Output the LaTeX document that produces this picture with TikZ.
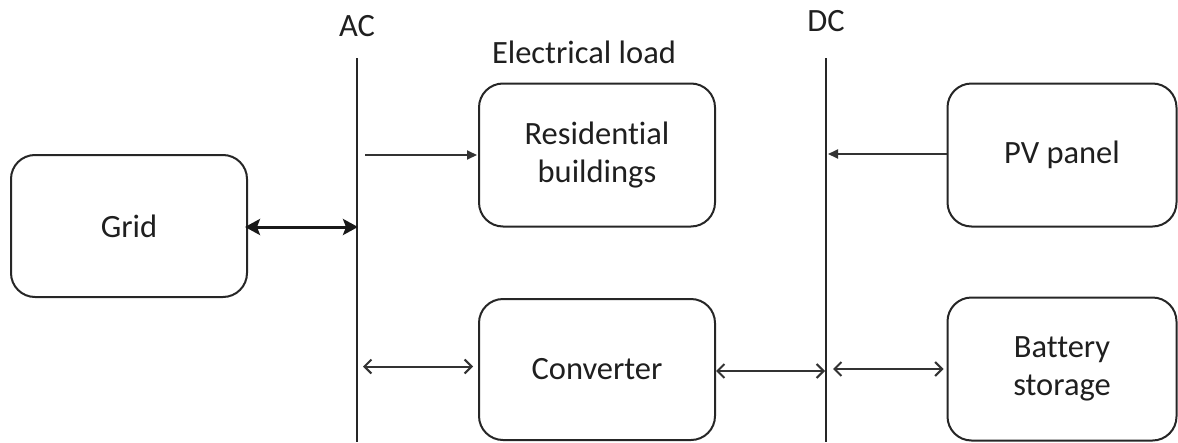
\documentclass[tikz,border=0pt]{standalone}
\usepackage{fontspec}
\setmainfont{Carlito}[Ligatures={NoCommon,NoRare,NoContextual}]
\usetikzlibrary{arrows.meta,calc}

\begin{document}
\begin{tikzpicture}[x=1pt,y=-1pt,
  block/.style={draw=black!85, line width=2pt, rounded corners=24pt,
    align=center, inner sep=0pt, text=black!88,
    font=\fontsize{32.5}{38}\selectfont},
  label/.style={anchor=base, inner sep=0pt, text=black!88,
    font=\fontsize{32.5}{38}\selectfont},
  bus/.style={line width=2pt, draw=black!85},
  link/.style={line width=2pt, draw=black!80},
  heavy/.style={line width=3pt, draw=black!90,
    {Stealth[length=15pt,width=16pt,inset=3pt]}-{Stealth[length=15pt,width=16pt,inset=3pt]}},
  feed/.style={link, -{Triangle[length=10pt,width=9pt]}},
  twoway/.style={link, {Straight Barb[length=7pt,width=14pt]}-{Straight Barb[length=7pt,width=14pt]}}
]
\useasboundingbox (0,0) rectangle (1178,442);

% AC and DC buses
\coordinate (acTop) at (357,58);
\coordinate (acBot) at (357,442);
\coordinate (dcTop) at (826,58);
\coordinate (dcBot) at (826,442);
\draw[bus] (acTop) -- (acBot);
\draw[bus] (dcTop) -- (dcBot);

\node[label] (aclbl) at (357,36) {AC};
\node[label] (dclbl) at (826,31) {DC};
\node[label] (loadlbl) at (584,63) {Electrical load};

% blocks
\node[block, minimum width=236pt, minimum height=142pt] (grid) at (129,226) {Grid};
\node[block, minimum width=236pt, minimum height=143pt] (res) at (597,155) {Residential\\buildings};
\node[block, minimum width=236pt, minimum height=141pt] (conv) at (597,369.5) {Converter};
\node[block, minimum width=229pt, minimum height=143pt] (pv) at (1062,155) {PV panel};
\node[block, minimum width=229pt, minimum height=143pt] (bat) at (1062,369) {Battery\\storage};

% connections
\draw[heavy] ($(grid.east)+(-3,1)$) -- ($(grid.east -| acTop)+(1,1)$);
\draw[feed] ($(res.west -| acTop)+(8,0)$) -- ($(res.west)+(-1,0)$);
\draw[twoway] ($(conv.west -| acTop)+(6,-3)$) -- ($(conv.west)+(-5,-3)$);
\draw[twoway] ($(conv.east)+(0,1.5)$) -- ($(conv.east -| dcTop)+(-1,1.5)$);
\draw[twoway] ($(bat.west -| dcTop)+(7,0)$) -- ($(bat.west)+(-3,0)$);
\draw[feed] ($(pv.west)+(0,-1)$) -- ($(pv.west -| dcTop)+(2,-1)$);
\end{tikzpicture}
\end{document}
